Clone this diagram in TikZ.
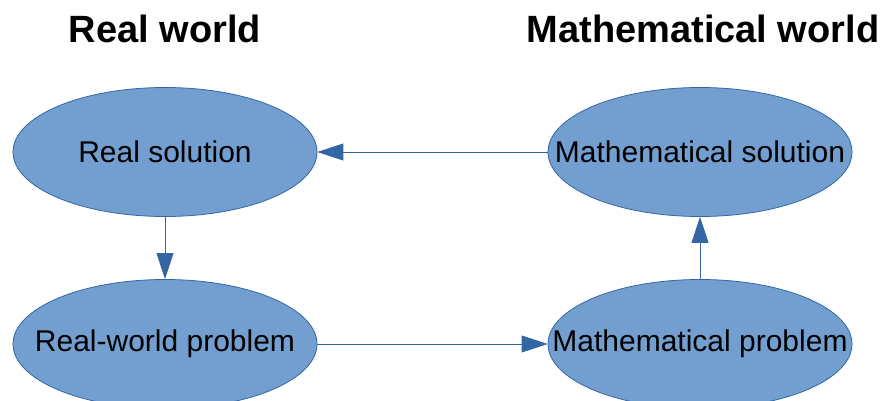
\documentclass[tikz,border=0pt]{standalone}
\usepackage{fontspec}
\setmainfont{Liberation Sans}
\usetikzlibrary{shapes.geometric,arrows.meta}
\definecolor{efill}{HTML}{729FCF}
\definecolor{eline}{HTML}{3465A4}
\tikzset{
  bubble/.style={ellipse, draw=eline, fill=efill, line width=0.8pt, minimum width=304pt, minimum height=129pt, inner sep=0pt,
    label={[font=\fontsize{30}{36}\selectfont, text=black, inner sep=0pt]center:#1}},
  title/.style={anchor=base, font=\fontsize{38}{44}\selectfont\bfseries, text=black},
  arr/.style={draw=eline, line width=0.9pt, -{Triangle[length=26pt,width=17pt]}, fill=eline}
}
\begin{document}
\begin{tikzpicture}[x=1pt,y=1pt]
\useasboundingbox (0,0) rectangle (884,400);
\clip (0,0) rectangle (884,400);
\node[title] (tr) at (165,357) {Real world};
\node[title] (tm) at (703,357) {Mathematical world};
\node[bubble={Real solution}] (rs) at (165,248) {};
\node[bubble={Mathematical solution}] (ms) at (700,248) {};
\node[bubble={Real-world problem}] (rp) at (165,56) {};
\node[bubble={Mathematical problem}] (mp) at (700,56) {};
\draw[arr] (ms) -- (rs);
\draw[arr] (rs) -- (rp);
\draw[arr] (rp) -- (mp);
\draw[arr] (mp) -- (ms);
\end{tikzpicture}
\end{document}
